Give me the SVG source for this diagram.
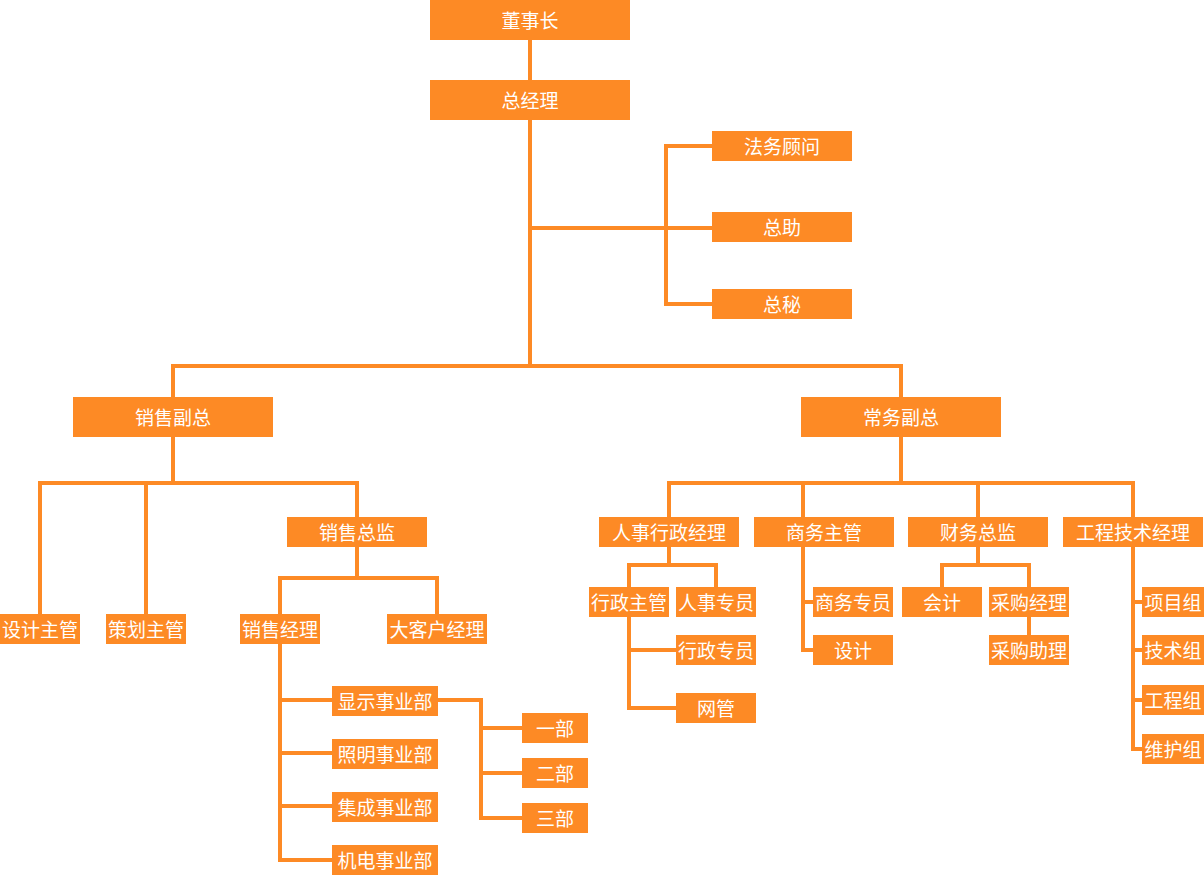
<svg xmlns="http://www.w3.org/2000/svg" width="1204" height="875" viewBox="0 0 1204 875">
<style>
.n rect{fill:#FD8A25}
.n text{fill:#fff;font-family:"Noto Sans CJK SC","Noto Sans",sans-serif;font-size:19px;text-anchor:middle;dominant-baseline:central;transform:translateY(-1px)}
#conn path{fill:none;stroke:#FD8A25;stroke-width:4;stroke-linejoin:miter}
</style>
<rect width="1204" height="875" fill="#fff"/>
<g id="conn">
<path d="M530,40 V80"/>
<path d="M530,120 V366"/>
<path d="M530,228 H712"/>
<path d="M712,146 H666 V304 H712"/>
<path d="M173,397 V366 H901 V397"/>
<path d="M173,437 V483"/>
<path d="M40,614 V483 H357 V517"/>
<path d="M146,483 V614"/>
<path d="M357,547 V578"/>
<path d="M280,614 V578 H437 V614"/>
<path d="M280,644 V860 H332"/>
<path d="M280,700 H332"/>
<path d="M280,753 H332"/>
<path d="M280,806 H332"/>
<path d="M438,700 H481 V818 H522"/>
<path d="M481,728 H522"/>
<path d="M481,773 H522"/>
<path d="M901,437 V483"/>
<path d="M669,517 V483 H1133 V517"/>
<path d="M803,483 V517"/>
<path d="M978,483 V517"/>
<path d="M669,547 V565"/>
<path d="M629,587 V565 H716 V587"/>
<path d="M629,617 V708 H676"/>
<path d="M629,650 H676"/>
<path d="M803,547 V650 H813"/>
<path d="M803,602 H813"/>
<path d="M978,547 V565"/>
<path d="M942,587 V565 H1029 V587"/>
<path d="M1029,617 V635"/>
<path d="M1133,547 V749 H1142"/>
<path d="M1133,602 H1142"/>
<path d="M1133,650 H1142"/>
<path d="M1133,700 H1142"/>
</g>
<g id="n-dsz" class="n"><rect x="430" y="0" width="200" height="40"/><text x="530" y="20">董事长</text></g>
<g id="n-zjl" class="n"><rect x="430" y="80" width="200" height="40"/><text x="530" y="100">总经理</text></g>
<g id="n-fwgw" class="n"><rect x="712" y="131" width="140" height="30"/><text x="782" y="146">法务顾问</text></g>
<g id="n-zz" class="n"><rect x="712" y="212" width="140" height="30"/><text x="782" y="227">总助</text></g>
<g id="n-zm" class="n"><rect x="712" y="289" width="140" height="30"/><text x="782" y="304">总秘</text></g>
<g id="n-xsfz" class="n"><rect x="73" y="397" width="200" height="40"/><text x="173" y="417">销售副总</text></g>
<g id="n-cwfz" class="n"><rect x="801" y="397" width="200" height="40"/><text x="901" y="417">常务副总</text></g>
<g id="n-sjzg" class="n"><rect x="0" y="614" width="80" height="30"/><text x="40" y="629">设计主管</text></g>
<g id="n-chzg" class="n"><rect x="106" y="614" width="80" height="30"/><text x="146" y="629">策划主管</text></g>
<g id="n-xszj" class="n"><rect x="287" y="517" width="140" height="30"/><text x="357" y="532">销售总监</text></g>
<g id="n-xsjl" class="n"><rect x="240" y="614" width="80" height="30"/><text x="280" y="629">销售经理</text></g>
<g id="n-dkhjl" class="n"><rect x="387" y="614" width="100" height="30"/><text x="437" y="629">大客户经理</text></g>
<g id="n-xs" class="n"><rect x="332" y="686" width="106" height="30"/><text x="385" y="701">显示事业部</text></g>
<g id="n-zm2" class="n"><rect x="332" y="739" width="106" height="30"/><text x="385" y="754">照明事业部</text></g>
<g id="n-jc" class="n"><rect x="332" y="792" width="106" height="30"/><text x="385" y="807">集成事业部</text></g>
<g id="n-jd" class="n"><rect x="332" y="845" width="106" height="30"/><text x="385" y="860">机电事业部</text></g>
<g id="n-yb" class="n"><rect x="522" y="713" width="66" height="30"/><text x="555" y="728">一部</text></g>
<g id="n-eb" class="n"><rect x="522" y="758" width="66" height="30"/><text x="555" y="773">二部</text></g>
<g id="n-sb" class="n"><rect x="522" y="803" width="66" height="30"/><text x="555" y="818">三部</text></g>
<g id="n-rsxzjl" class="n"><rect x="599" y="517" width="140" height="30"/><text x="669" y="532">人事行政经理</text></g>
<g id="n-swzg" class="n"><rect x="754" y="517" width="140" height="30"/><text x="824" y="532">商务主管</text></g>
<g id="n-cwzj" class="n"><rect x="908" y="517" width="140" height="30"/><text x="978" y="532">财务总监</text></g>
<g id="n-gcjsjl" class="n"><rect x="1063" y="517" width="140" height="30"/><text x="1133" y="532">工程技术经理</text></g>
<g id="n-xzzg" class="n"><rect x="589" y="587" width="80" height="30"/><text x="629" y="602">行政主管</text></g>
<g id="n-rszy" class="n"><rect x="676" y="587" width="80" height="30"/><text x="716" y="602">人事专员</text></g>
<g id="n-xzzy" class="n"><rect x="676" y="635" width="80" height="30"/><text x="716" y="650">行政专员</text></g>
<g id="n-wg" class="n"><rect x="676" y="693" width="80" height="30"/><text x="716" y="708">网管</text></g>
<g id="n-swzy" class="n"><rect x="813" y="587" width="80" height="30"/><text x="853" y="602">商务专员</text></g>
<g id="n-sj" class="n"><rect x="813" y="635" width="80" height="30"/><text x="853" y="650">设计</text></g>
<g id="n-kj" class="n"><rect x="902" y="587" width="80" height="30"/><text x="942" y="602">会计</text></g>
<g id="n-cgjl" class="n"><rect x="989" y="587" width="80" height="30"/><text x="1029" y="602">采购经理</text></g>
<g id="n-cgzl" class="n"><rect x="989" y="635" width="80" height="30"/><text x="1029" y="650">采购助理</text></g>
<g id="n-xmz" class="n"><rect x="1142" y="587" width="62" height="30"/><text x="1173" y="602">项目组</text></g>
<g id="n-jsz" class="n"><rect x="1142" y="635" width="62" height="30"/><text x="1173" y="650">技术组</text></g>
<g id="n-gcz" class="n"><rect x="1142" y="685" width="62" height="30"/><text x="1173" y="700">工程组</text></g>
<g id="n-whz" class="n"><rect x="1142" y="734" width="62" height="30"/><text x="1173" y="749">维护组</text></g>
</svg>
